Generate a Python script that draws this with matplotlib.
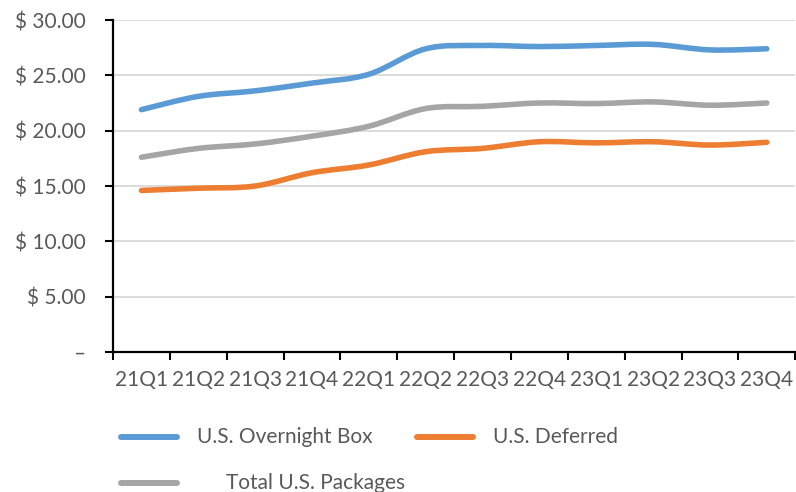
import numpy as np
import matplotlib.pyplot as plt
from matplotlib.path import Path
from matplotlib.patches import PathPatch
from matplotlib.lines import Line2D

quarters = ['21Q1', '21Q2', '21Q3', '21Q4', '22Q1', '22Q2',
            '22Q3', '22Q4', '23Q1', '23Q2', '23Q3', '23Q4']
overnight_box = [21.9, 23.1, 23.6, 24.3, 25.1, 27.4, 27.7, 27.6, 27.7, 27.8, 27.3, 27.4]
deferred = [14.6, 14.8, 15.0, 16.2, 16.9, 18.1, 18.4, 19.0, 18.9, 19.0, 18.7, 18.95]
total_packages = [17.6, 18.4, 18.8, 19.5, 20.4, 22.0, 22.2, 22.5, 22.45, 22.6, 22.3, 22.5]

series = [
    ('U.S. Overnight Box', overnight_box, '#5B9BD5'),
    ('U.S. Deferred', deferred, '#ED7D31'),
    ('Total U.S. Packages', total_packages, '#A5A5A5'),
]

plt.rcParams['font.family'] = ['Lato', 'DejaVu Sans']
text_color = '#595959'


def smooth_path(x, y):
    # cubic bezier through every point, spreadsheet-style smoothing
    pts = np.column_stack([x, y]).astype(float)
    n = len(pts)
    verts = [pts[0]]
    codes = [Path.MOVETO]
    for i in range(n - 1):
        p0 = pts[i - 1] if i > 0 else pts[i]
        p1 = pts[i]
        p2 = pts[i + 1]
        p3 = pts[i + 2] if i + 2 < n else pts[i + 1]
        c1 = p1 + (p2 - p0) / 6.0
        c2 = p2 - (p3 - p1) / 6.0
        verts += [c1, c2, p2]
        codes += [Path.CURVE4] * 3
    return Path(verts, codes)


fig = plt.figure(figsize=(7.96, 4.92), dpi=100)
ax = fig.add_axes([0.142, 0.2846, 0.857, 0.6747])

x = np.arange(len(quarters)) + 0.5
for name, vals, color in series:
    patch = PathPatch(smooth_path(x, vals), facecolor='none', edgecolor=color,
                      lw=4, capstyle='round', joinstyle='round', zorder=3)
    ax.add_patch(patch)

ax.set_xlim(0, len(quarters))
ax.set_ylim(0, 30)

ax.set_yticks(np.arange(0, 31, 5))
ax.set_yticklabels(['–'] + ['$ %.2f' % v for v in np.arange(5, 31, 5)])
ax.yaxis.grid(True, color='#d9d9d9', lw=1.3)
ax.set_axisbelow(True)

ax.set_xticks(np.arange(0, len(quarters) + 1))
ax.set_xticklabels([])
ax.set_xticks(x, minor=True)
ax.set_xticklabels(quarters, minor=True)
ax.tick_params(axis='x', which='major', length=6, width=1.5, color='black')
ax.tick_params(axis='x', which='minor', length=0, pad=13, labelsize=15, labelcolor=text_color)
ax.tick_params(axis='y', length=6, width=1.5, color='black', pad=14,
               labelsize=15, labelcolor=text_color)

for side in ['top', 'right']:
    ax.spines[side].set_visible(False)
for side in ['left', 'bottom']:
    ax.spines[side].set_linewidth(1.6)
    ax.spines[side].set_color('black')

# legend entries laid out in two rows
legend_spots = [(121, 437, 197), (417, 437, 493), (121, 483, 226)]
W, H = 796, 492
for (name, vals, color), (hx, hy, tx) in zip(series, legend_spots):
    fig.add_artist(Line2D([hx / W, (hx + 56) / W], [1 - hy / H, 1 - hy / H],
                          color=color, lw=4.3, solid_capstyle='round'))
    fig.text(tx / W, 1 - hy / H, name, fontsize=15, color=text_color,
             va='center', ha='left')

fig.savefig('out.png', dpi=100)
